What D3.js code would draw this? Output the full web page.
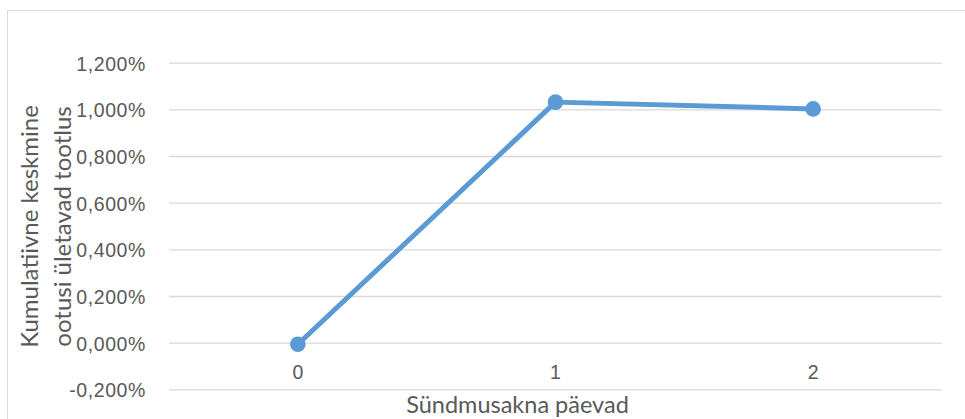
<!DOCTYPE html>
<html>
<head>
<meta charset="utf-8">
<script src="https://cdn.jsdelivr.net/npm/d3@7"></script>
<style>
  html, body { margin: 0; padding: 0; background: #fff; }
  svg { display: block; font-family: Lato, "Open Sans", "Liberation Sans", sans-serif; }
</style>
</head>
<body>
<svg id="chart" width="965" height="419"></svg>
<script>
// Event-window days and cumulative average abnormal return (in %)
const days = ["0", "1", "2"];
const returns = [-0.007, 1.031, 1.002];
const yTicks = [-0.2, 0, 0.2, 0.4, 0.6, 0.8, 1.0, 1.2];
const yTitleLines = ["Kumulatiivne keskmine", "ootusi ületavad tootlus"];
const xTitle = "Sündmusakna päevad";

const svg = d3.select("#chart");
const W = 965, H = 419;
const plot = { left: 169, right: 942, top: 62.7, bottom: 389.3 };

// Outer chart frame
svg.append("rect")
  .attr("x", 7.5).attr("y", 10.5)
  .attr("width", W).attr("height", H)
  .attr("fill", "#fff").attr("stroke", "#d9d9d9").attr("stroke-width", 1);

const x = d3.scaleBand().domain(days).range([plot.left, plot.right]);
const y = d3.scaleLinear().domain([-0.2, 1.2]).range([plot.bottom, plot.top]);

// Comma decimal separator, plain hyphen for negatives
const fmt = v => d3.format(".3f")(v).replace("−", "-").replace(".", ",") + "%";

// Horizontal gridlines with value labels
const yAxis = d3.axisLeft(y)
  .tickValues(yTicks)
  .tickSize(-(plot.right - plot.left))
  .tickPadding(23)
  .tickFormat(fmt);

const gy = svg.append("g")
  .attr("transform", `translate(${plot.left},0)`)
  .call(yAxis);
gy.select(".domain").remove();
gy.selectAll(".tick line").attr("stroke", "#d9d9d9").attr("stroke-width", 1.3);
gy.selectAll(".tick text")
  .attr("fill", "#595959")
  .attr("dy", "0.38em")
  .style("font-size", "19.5px")
  .style("letter-spacing", "0.6px");

// Category labels below the zero line
const gx = svg.append("g")
  .attr("transform", `translate(0,${y(0)})`)
  .call(d3.axisBottom(x).tickSize(0));
gx.select(".domain").remove();
gx.selectAll(".tick text")
  .attr("y", 36.3)
  .attr("dy", 0)
  .attr("fill", "#595959")
  .style("font-size", "19.5px");

// Series line and markers
const line = d3.line()
  .x((d, i) => x(days[i]) + x.bandwidth() / 2)
  .y(d => y(d));

svg.append("path")
  .datum(returns)
  .attr("d", line)
  .attr("fill", "none")
  .attr("stroke", "#5b9bd5")
  .attr("stroke-width", 5)
  .attr("stroke-linejoin", "round");

svg.selectAll("circle.pt")
  .data(returns)
  .enter().append("circle")
  .attr("class", "pt")
  .attr("cx", (d, i) => x(days[i]) + x.bandwidth() / 2)
  .attr("cy", d => y(d))
  .attr("r", 7.8)
  .attr("fill", "#5b9bd5");

// Axis titles
const yt = svg.append("text")
  .attr("transform", "translate(0,226.5) rotate(-90)")
  .attr("text-anchor", "middle")
  .attr("fill", "#595959")
  .style("font-size", "24px");
yt.selectAll("tspan")
  .data(yTitleLines)
  .enter().append("tspan")
  .attr("x", 0)
  .attr("y", (d, i) => 38 + i * 33)
  .text(d => d);

svg.append("text")
  .attr("x", 517.5).attr("y", 413)
  .attr("text-anchor", "middle")
  .attr("fill", "#595959")
  .style("font-size", "23.5px")
  .text(xTitle);
</script>
</body>
</html>
